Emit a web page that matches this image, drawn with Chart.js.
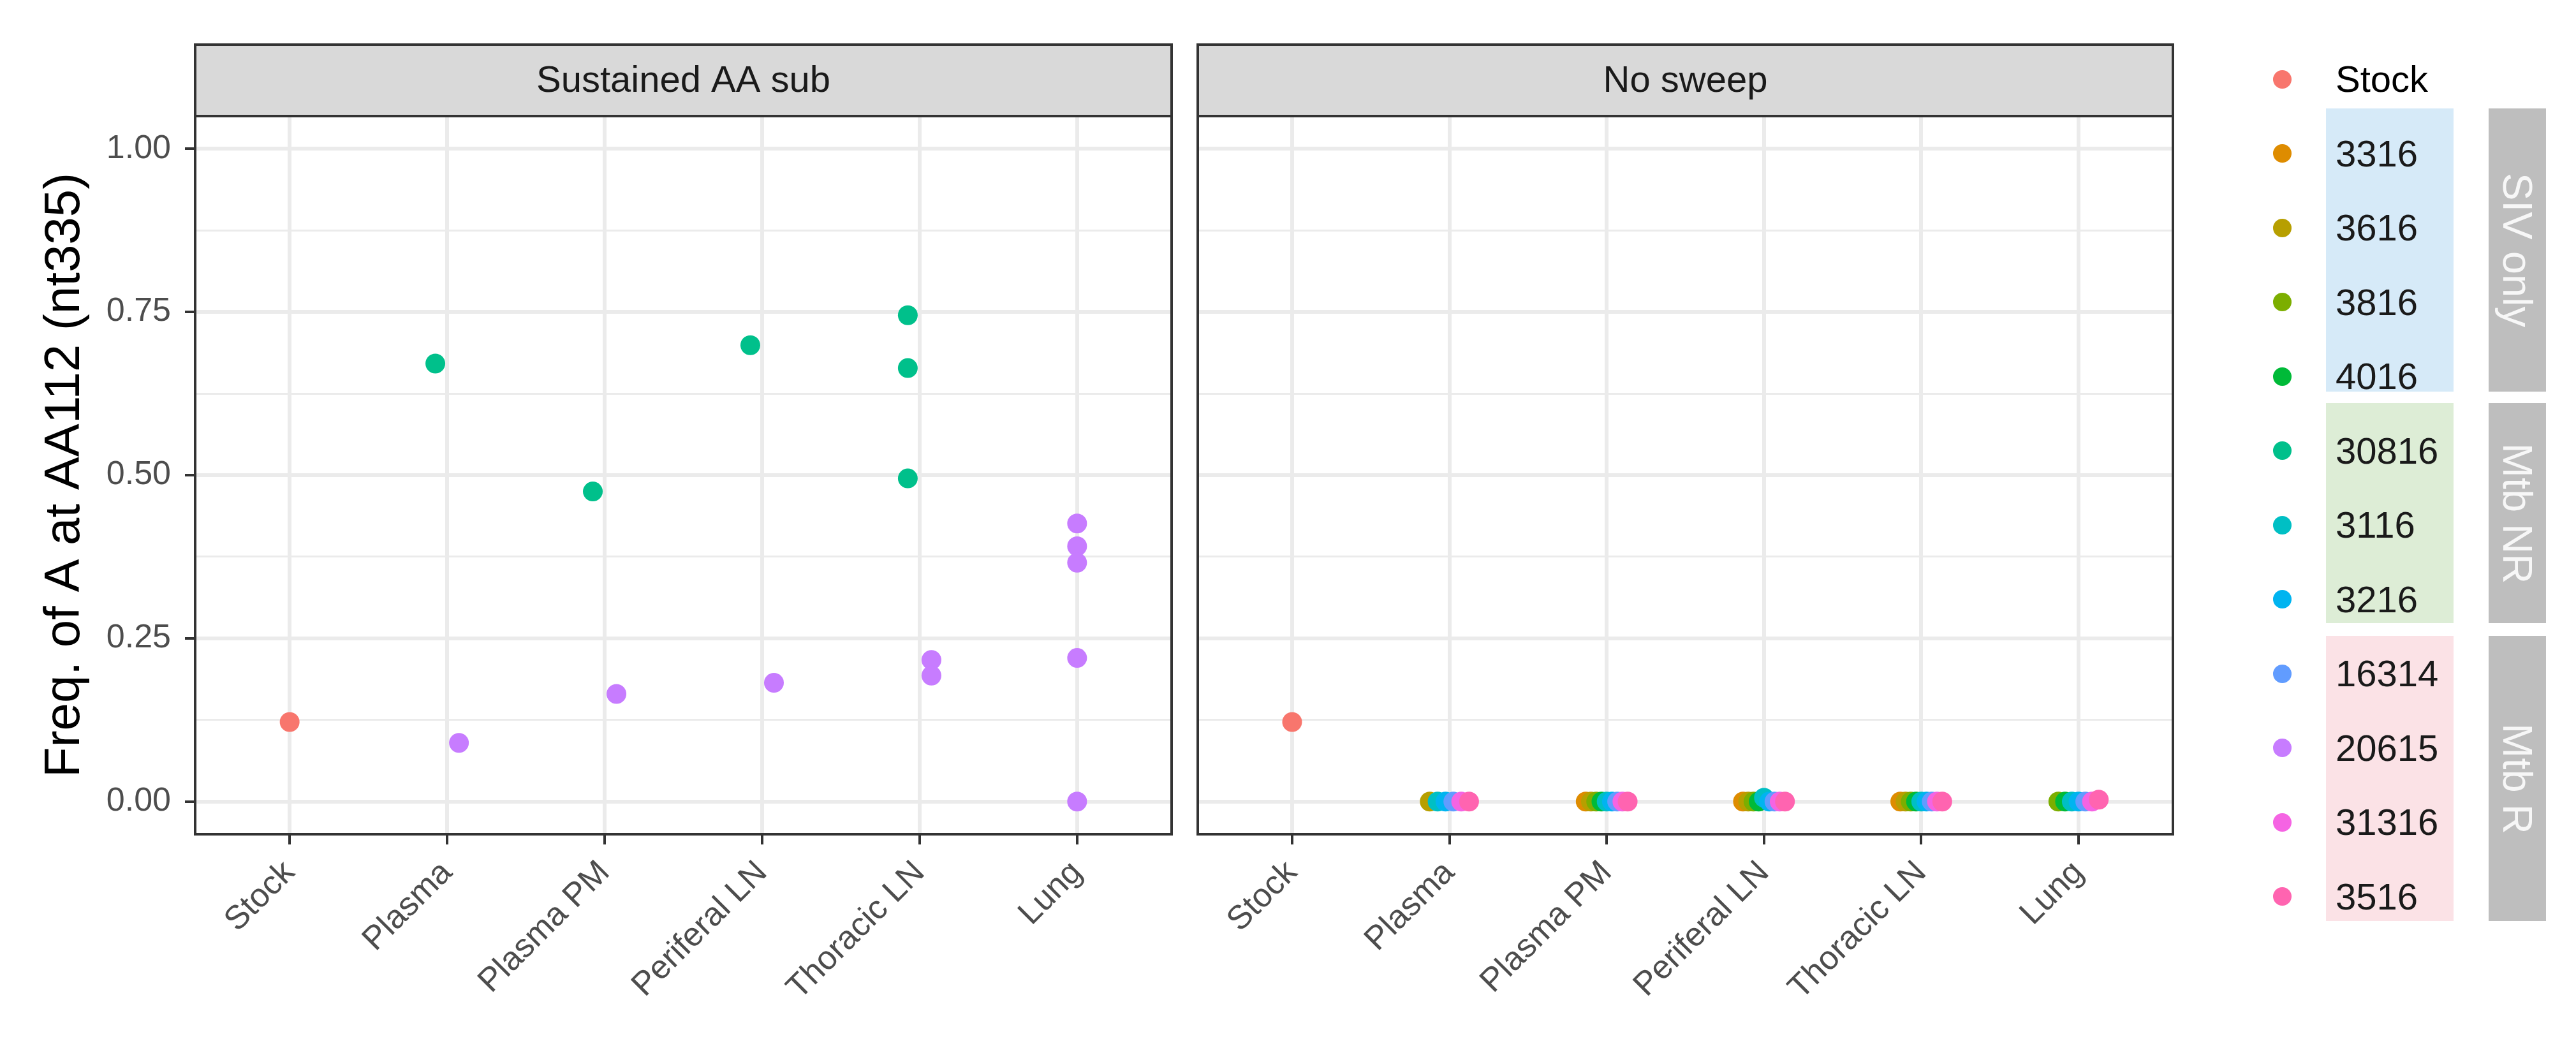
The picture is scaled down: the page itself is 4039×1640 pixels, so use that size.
<!DOCTYPE html>
<html>
<head>
<meta charset="utf-8">
<script src="https://cdn.jsdelivr.net/npm/chart.js@4.4.1/dist/chart.umd.min.js"></script>
<style>
  html, body { margin: 0; padding: 0; background: #fff; }
  #page { position: relative; width: 4039px; height: 1640px; overflow: hidden; font-family: "Liberation Sans", Arial, sans-serif; }
  canvas { position: absolute; top: 0; }
  #sustained { left: 0; }
  #nosweep { left: 1857px; }
  .key { position: absolute; width: 29px; height: 29px; border-radius: 50%; }
  .keyLabel { position: absolute; font-size: 58px; line-height: 58px; color: #1a1a1a; }
  .groupBox { position: absolute; }
  .groupStrip { position: absolute; background: #bebebe; }
  .groupStrip span { position: absolute; left: 50%; top: 50%; transform: translate(-50%, -50%) rotate(90deg); white-space: nowrap; color: #f7f7f7; font-size: 65px; }
</style>
</head>
<body>
<div id="page">
  <canvas id="sustained" width="1857" height="1640"></canvas>
  <canvas id="nosweep" width="1570" height="1640"></canvas>
</div>
<script>
const categories = ['Stock', 'Plasma', 'Plasma PM', 'Periferal LN', 'Thoracic LN', 'Lung']
const seriesNames = ['Stock', '3316', '3616', '3816', '4016', '30816', '3116', '3216', '16314', '20615', '31316', '3516']
const seriesColors = ['#F8766D', '#DE8C00', '#B79F00', '#7CAE00', '#00BA38', '#00C08B',
                      '#00BFC4', '#00B4F0', '#619CFF', '#C77CFF', '#F564E3', '#FF64B0']

const yTickValues = [0, 0.25, 0.5, 0.75, 1]
const yTickLabels = ['0.00', '0.25', '0.50', '0.75', '1.00']
const yMinorValues = [0.125, 0.375, 0.625, 0.875]

const facetTitles = ['Sustained AA sub', 'No sweep']
const yTitle = 'Freq. of A at AA112 (nt335)'

// values per category (null = no sample), one array per animal
const sustainedStock = [0.122, null, null, null, null, null]
const sustained30816 = [null, [0.671], [0.475], [0.699], [0.745, 0.664, 0.495], null]
const sustained20615 = [null, [0.090], [0.165], [0.182], [0.217, 0.193], [0.426, 0.391, 0.366, 0.220, 0.0]]

const noSweepStock = [0.122, null, null, null, null, null]
const noSweep3316  = [null, null, 0, 0, 0, null]
const noSweep3616  = [null, 0, 0, 0, 0, null]
const noSweep3816  = [null, null, 0, 0, 0, 0]
const noSweep4016  = [null, null, 0, 0, 0, 0]
const noSweep3116  = [null, 0, 0, 0.006, 0, 0]
const noSweep3216  = [null, 0, 0, 0, 0, 0]
const noSweep16314 = [null, 0, 0, 0, 0, 0]
const noSweep31316 = [null, 0, 0, 0, 0, 0]
const noSweep3516  = [null, 0, 0, 0, 0, 0.003]

const sustainedSeries = { 'Stock': sustainedStock, '30816': sustained30816, '20615': sustained20615 }
const noSweepSeries = {
    'Stock': noSweepStock, '3316': noSweep3316, '3616': noSweep3616, '3816': noSweep3816,
    '4016': noSweep4016, '3116': noSweep3116, '3216': noSweep3216, '16314': noSweep16314,
    '31316': noSweep31316, '3516': noSweep3516
}

const legendGroups = [
    { label: 'SIV only', first: 1, last: 4, fill: '#D6EAF8', top: 170, bottom: 614 },
    { label: 'Mtb NR', first: 5, last: 7, fill: '#DDEDD6', top: 632, bottom: 977 },
    { label: 'Mtb R', first: 8, last: 11, fill: '#FBE2E6', top: 997, bottom: 1444 }
]

const FONT = '"Liberation Sans", Arial, sans-serif'
const STRIP_TOP = 70
const DODGE = 0.3

Chart.defaults.font.family = FONT

function buildDatasets(facet) {
    const datasets = seriesNames.map((name, s) => ({
        label: name,
        data: [],
        backgroundColor: seriesColors[s],
        borderWidth: 0,
        pointRadius: 15.5,
        pointHoverRadius: 15.5,
        order: -s
    }))
    categories.forEach((cat, c) => {
        const present = seriesNames.filter(n => facet[n] && facet[n][c] !== null)
        present.forEach((name, k) => {
            const s = seriesNames.indexOf(name)
            const off = DODGE * ((k + 0.5) / present.length - 0.5)
            ;[].concat(facet[name][c]).forEach(v => datasets[s].data.push({ x: c + 1 + off, y: v }))
        })
    })
    return datasets
}

const isMajor = v => yTickValues.some(t => Math.abs(t - v) < 1e-6)

const panelDecor = {
    id: 'panelDecor',
    afterDraw(chart, args, opts) {
        const { ctx, chartArea: a } = chart
        ctx.save()
        ctx.fillStyle = '#D9D9D9'
        ctx.fillRect(a.left, STRIP_TOP, a.right - a.left, a.top - STRIP_TOP)
        ctx.strokeStyle = '#333333'
        ctx.lineWidth = 4
        ctx.strokeRect(a.left, STRIP_TOP, a.right - a.left, a.top - STRIP_TOP)
        ctx.strokeRect(a.left, a.top, a.right - a.left, a.bottom - a.top)
        ctx.fillStyle = '#1A1A1A'
        ctx.font = '58px ' + FONT
        ctx.textAlign = 'center'
        ctx.textBaseline = 'middle'
        ctx.fillText(opts.title, (a.left + a.right) / 2, (STRIP_TOP + a.top) / 2 + 2)
        ctx.restore()
    }
}

function makeChart(canvasId, facet, title, showY) {
    return new Chart(document.getElementById(canvasId), {
        type: 'scatter',
        data: { datasets: buildDatasets(facet) },
        plugins: [panelDecor],
        options: {
            responsive: false,
            animation: false,
            devicePixelRatio: 1,
            events: [],
            layout: { padding: { top: 182, right: 20, bottom: 0, left: 0 } },
            plugins: {
                legend: { display: false },
                tooltip: { enabled: false },
                panelDecor: { title: title }
            },
            scales: {
                x: {
                    type: 'linear',
                    min: 0.4,
                    max: 6.6,
                    afterBuildTicks: s => { s.ticks = categories.map((c, i) => ({ value: i + 1 })) },
                    afterFit: s => { s.height = 332 },
                    border: { display: false },
                    grid: { color: '#EBEBEB', lineWidth: 6, tickColor: '#333333', tickLength: 16, tickWidth: 4 },
                    ticks: {
                        autoSkip: false,
                        minRotation: 45,
                        maxRotation: 45,
                        padding: 14,
                        color: '#4D4D4D',
                        font: { size: 52 },
                        callback: v => categories[Math.round(v) - 1]
                    }
                },
                y: {
                    type: 'linear',
                    min: -0.05,
                    max: 1.05,
                    afterBuildTicks: s => {
                        s.ticks = yTickValues.concat(yMinorValues).sort((a, b) => a - b).map(v => ({ value: v }))
                    },
                    afterFit: s => { s.width = showY ? 306 : 21 },
                    border: { display: false },
                    grid: {
                        color: '#EBEBEB',
                        lineWidth: ctx => isMajor(ctx.tick.value) ? 6 : 3,
                        drawTicks: showY,
                        tickColor: ctx => isMajor(ctx.tick.value) ? '#333333' : 'rgba(0,0,0,0)',
                        tickLength: 16,
                        tickWidth: 4
                    },
                    ticks: {
                        display: showY,
                        padding: 22,
                        color: '#4D4D4D',
                        font: { size: 52 },
                        callback: v => {
                            const i = yTickValues.findIndex(t => Math.abs(t - v) < 1e-6)
                            return i >= 0 ? yTickLabels[i] : ''
                        }
                    },
                    title: {
                        display: showY,
                        text: yTitle,
                        color: '#000000',
                        font: { size: 78 },
                        padding: { top: 56, bottom: 0 }
                    }
                }
            }
        }
    })
}

makeChart('sustained', sustainedSeries, facetTitles[0], true)
makeChart('nosweep', noSweepSeries, facetTitles[1], false)

// legend on the right, with the group boxes
const page = document.getElementById('page')
const KEY_X = 3578, LABEL_X = 3662, FIRST_Y = 124, STEP_Y = 116.5

legendGroups.forEach(g => {
    const box = document.createElement('div')
    box.className = 'groupBox'
    Object.assign(box.style, { left: '3647px', width: '200px', top: g.top + 'px', height: (g.bottom - g.top) + 'px', background: g.fill })
    page.appendChild(box)

    const strip = document.createElement('div')
    strip.className = 'groupStrip'
    Object.assign(strip.style, { left: '3902px', width: '90px', top: g.top + 'px', height: (g.bottom - g.top) + 'px' })
    const txt = document.createElement('span')
    txt.textContent = g.label
    strip.appendChild(txt)
    page.appendChild(strip)
})

seriesNames.forEach((name, i) => {
    const cy = FIRST_Y + STEP_Y * i
    const key = document.createElement('div')
    key.className = 'key'
    Object.assign(key.style, { left: (KEY_X - 14.5) + 'px', top: (cy - 14.5) + 'px', background: seriesColors[i] })
    page.appendChild(key)

    const label = document.createElement('div')
    label.className = 'keyLabel'
    label.textContent = name
    Object.assign(label.style, { left: LABEL_X + 'px', top: (cy - 29) + 'px' })
    if (i === 0) label.style.color = '#000'
    page.appendChild(label)
})
</script>
</body>
</html>
